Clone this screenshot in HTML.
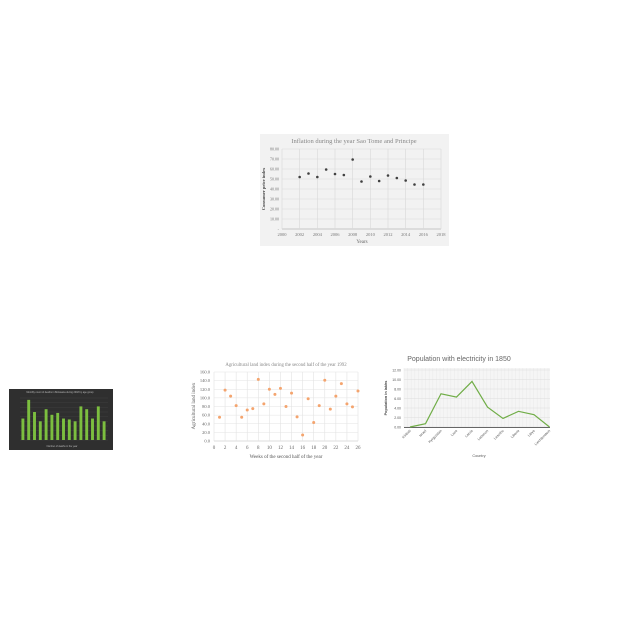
<!DOCTYPE html>
<html><head><meta charset="utf-8"><style>
body{margin:0;background:#fff;width:640px;height:640px;overflow:hidden}
svg{display:block;font-family:"Liberation Serif",serif}
</style></head><body>
<svg id="s" width="640" height="640" viewBox="0 0 640 640"></svg>
<script>
const inflYears=[2002,2003,2004,2005,2006,2007,2008,2009,2010,2011,2012,2013,2014,2015,2016];
const inflValues=[52,55.5,52,59.5,55,54,69.5,47.5,52.5,48,53.5,51,48.5,44.5,44.5];
const inflYTicks=[0,10,20,30,40,50,60,70,80];
const inflXTicks=[2000,2002,2004,2006,2008,2010,2012,2014,2016,2018];
const agriWeeks=[1,2,3,4,5,6,7,8,9,10,11,12,13,14,15,16,17,18,19,20,21,22,23,24,25,26];
const agriValues=[55,118,104,82,55,72,75,143,86,120,108,122,80,111,56,14,98,43,82,141,74,104,133,86,79,116];
const agriYTicks=[0,20,40,60,80,100,120,140,160];
const agriXTicks=[0,2,4,6,8,10,12,14,16,18,20,22,24,26];
const elecCountries=["Kiribati","Israel","Kyrgyzstan","Laos","Latvia","Lebanon","Lesotho","Liberia","Libya","Liechtenstein"];
const elecValues=[0,0.7,7.0,6.3,9.6,4.2,1.8,3.3,2.6,0];
const elecYTicks=[0,2,4,6,8,10,12];
const darkValues=[23,43,30,20,33,27,29,23,22,20,36,33,23,36,20];
const darkYTicks=[0,5,10,15,20,25,30,35,40,45];

const S=document.getElementById('s');const NS='http://www.w3.org/2000/svg';
function mk(t,a,txt){const e=document.createElementNS(NS,t);for(const k in a)e.setAttribute(k,a[k]);if(txt!==undefined)e.textContent=txt;S.appendChild(e);return e;}
function lin(d0,d1,r0,r1){return v=>r0+(v-d0)/(d1-d0)*(r1-r0);}

// Chart 1: inflation
let e=mk('rect',{x:260,y:134,width:189,height:112,fill:'#f2f2f2'});

let ix=lin(2000,2018,282,441),iy=lin(0,80,229,149);
inflYTicks.forEach(t=>{e=mk('line',{x1:282,x2:441,y1:iy(t),y2:iy(t),stroke:t?'#d9d9d9':'#999','stroke-width':0.6});

e=mk('text',{x:279,y:iy(t)+1.5,'font-size':4,fill:'#777','text-anchor':'end'},t?t.toFixed(2):'-');
});
inflXTicks.forEach(t=>{e=mk('line',{x1:ix(t),x2:ix(t),y1:149,y2:229,stroke:'#d9d9d9','stroke-width':0.6});

e=mk('text',{x:ix(t),y:236,'font-size':4.5,fill:'#777','text-anchor':'middle'},t);
});
inflYears.forEach((y,i)=>{e=mk('circle',{cx:ix(y),cy:iy(inflValues[i]),r:1.3,fill:'#404040'});
});
e=mk('text',{x:354,y:143,'font-size':6.5,fill:'#888','text-anchor':'middle'},'Inflation during the year Sao Tome and Principe');

e=mk('text',{x:362,y:243,'font-size':5,fill:'#666','text-anchor':'middle'},'Years');

e=mk('text',{x:0,y:0,'font-size':4.5,fill:'#444','font-weight':'bold','text-anchor':'middle',transform:'translate(265,189) rotate(-90)'},'Consumer price index');


// Chart 2: agricultural scatter
let ax=lin(0,26,214,358),ay=lin(0,160,441,372);
agriYTicks.forEach(t=>{e=mk('line',{x1:214,x2:358,y1:ay(t),y2:ay(t),stroke:t?'#e3e3e3':'#bbb','stroke-width':0.6});

e=mk('text',{x:210,y:ay(t)+1.5,'font-size':4.5,fill:'#666','text-anchor':'end'},t.toFixed(1));
});
agriXTicks.forEach(t=>{e=mk('line',{x1:ax(t),x2:ax(t),y1:372,y2:441,stroke:'#e3e3e3','stroke-width':0.6});

e=mk('text',{x:ax(t),y:449,'font-size':5,fill:'#666','text-anchor':'middle'},t);
});
agriWeeks.forEach((w,i)=>{e=mk('circle',{cx:ax(w),cy:ay(agriValues[i]),r:1.5,fill:'#f4a46e'});
});
e=mk('text',{x:286,y:366,'font-size':4.8,fill:'#888','text-anchor':'middle'},'Agricultural land index during the second half of the year 1992');

e=mk('text',{x:286,y:458,'font-size':5,fill:'#555','text-anchor':'middle'},'Weeks of the second half of the year');

e=mk('text',{x:0,y:0,'font-size':5,fill:'#555','text-anchor':'middle',transform:'translate(195,406) rotate(-90)'},'Agricultural land index');


// Chart 3: electricity line
e=mk('rect',{x:404,y:368,width:146,height:59,fill:'#f5f5f5'});

for(let gx=404;gx<=550;gx+=3.6){e=mk('line',{x1:gx,x2:gx,y1:368,y2:427,stroke:'#e6e6e6','stroke-width':0.4});}
let ex=i=>410+i*15.5,ey=lin(0,12,427,370);
elecYTicks.forEach(t=>{e=mk('line',{x1:404,x2:550,y1:ey(t),y2:ey(t),stroke:'#ddd','stroke-width':0.5});

e=mk('text',{x:401,y:ey(t)+1.3,'font-size':3.5,fill:'#555','text-anchor':'end','font-family':'Liberation Sans'},t.toFixed(2));
});
e=mk('line',{x1:404,x2:550,y1:427.5,y2:427.5,stroke:'#666','stroke-width':1});

e=mk('polyline',{points:elecValues.map((v,i)=>ex(i)+','+ey(v)).join(' '),fill:'none',stroke:'#70ad47','stroke-width':1.2});

elecCountries.forEach((c,i)=>{e=mk('text',{x:0,y:0,'font-size':3.5,fill:'#555','text-anchor':'end','font-family':'Liberation Sans',transform:`translate(${ex(i)+1},431) rotate(-45)`},c);
});
e=mk('text',{x:459,y:361,'font-size':7,fill:'#666','text-anchor':'middle','font-family':'Liberation Sans'},'Population with electricity in 1850');

e=mk('text',{x:479,y:457,'font-size':3.8,fill:'#555','text-anchor':'middle','font-family':'Liberation Sans'},'Country');

e=mk('text',{x:0,y:0,'font-size':3.8,fill:'#444','font-weight':'bold','text-anchor':'middle','font-family':'Liberation Sans',transform:'translate(387,398) rotate(-90)'},'Population in lakhs');


// Chart 4: dark bar chart
e=mk('rect',{x:9,y:389,width:104,height:61,fill:'#2f2f2f'});

let dy=lin(0,45,440,398),bw=(107-20)/darkValues.length;
darkYTicks.forEach(t=>{e=mk('line',{x1:20,x2:108,y1:dy(t),y2:dy(t),stroke:'#444','stroke-width':0.4});
});
darkValues.forEach((v,i)=>{e=mk('rect',{x:20+i*bw+bw*0.25,y:dy(v),width:bw*0.5,height:440-dy(v),fill:'#7cbf3f'});
});
e=mk('text',{x:60,y:393,'font-size':2.4,fill:'#bbb','text-anchor':'middle','font-family':'Liberation Sans'},'Monthly count of deaths in Botswana during 2018 by age group');

e=mk('text',{x:62,y:447,'font-size':2.4,fill:'#bbb','text-anchor':'middle','font-family':'Liberation Sans'},'Number of deaths in the year');

</script>
</body></html>
